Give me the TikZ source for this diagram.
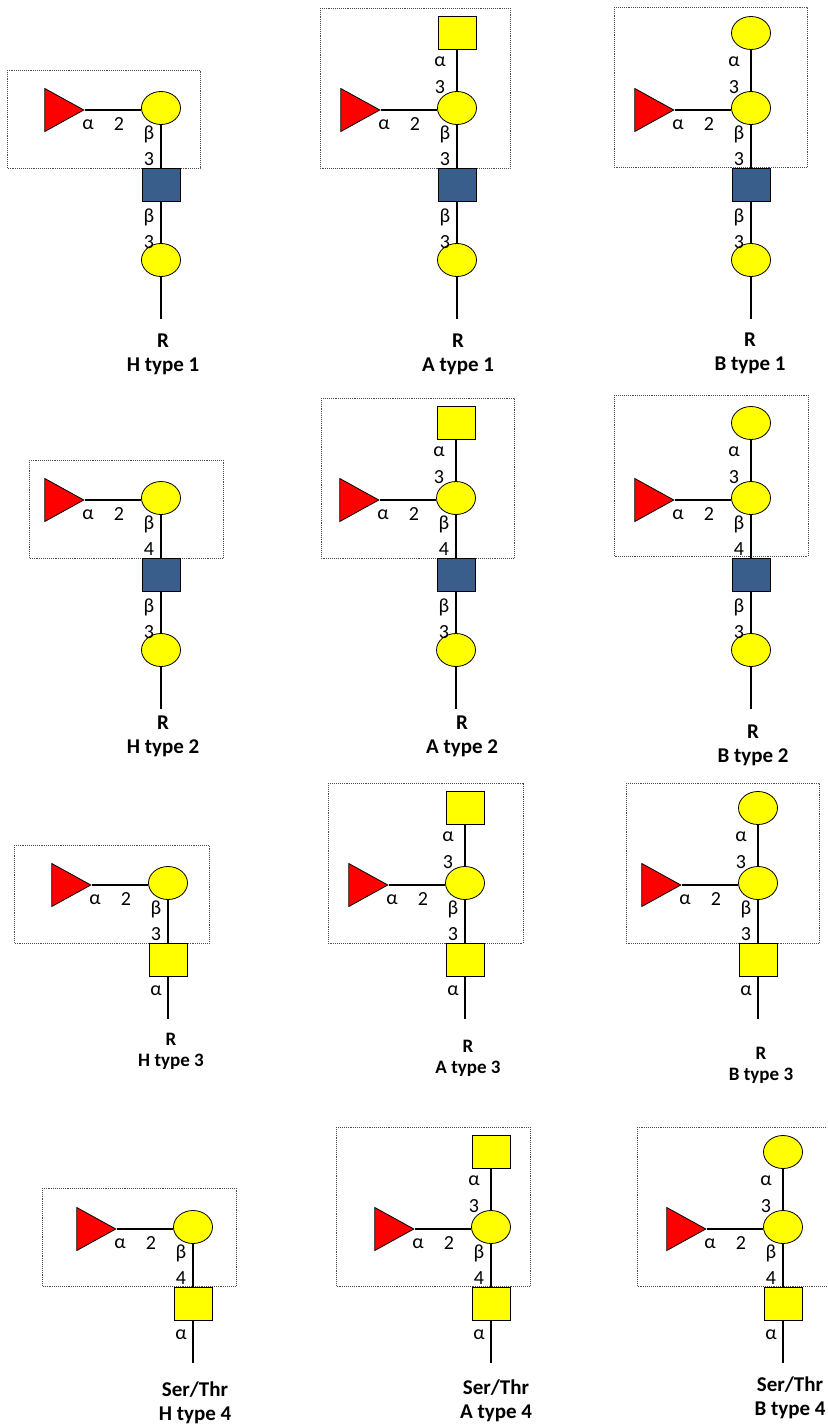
\documentclass[tikz,border=0pt]{standalone}
\usepackage{fontspec}
\setmainfont{Carlito}
\usetikzlibrary{shapes.geometric}
\definecolor{fucred}{RGB}{255,0,0}
\definecolor{galyellow}{RGB}{255,255,0}
\definecolor{glcblue}{RGB}{57,94,140}

\begin{document}
\begin{tikzpicture}[x=1pt, y=-1pt,
		fuc/.style={isosceles triangle, isosceles triangle stretches, shape border rotate=0, draw, fill=fucred, minimum width=43pt, minimum height=39pt, inner sep=0pt, line width=0.8pt},
		gal/.style={ellipse, draw, fill=galyellow, minimum width=39pt, minimum height=33pt, inner sep=0pt, line width=0.8pt},
		glcnac/.style={rectangle, draw, fill=glcblue, minimum width=38pt, minimum height=33pt, inner sep=0pt, line width=0.8pt},
		galnac/.style={rectangle, draw, fill=galyellow, minimum width=38pt, minimum height=33pt, inner sep=0pt, line width=0.8pt},
		link/.style={line width=1.5pt},
		lnk/.style={font=\fontsize{20}{24}\selectfont, inner sep=0pt},
		lab/.style={font=\fontsize{21}{25}\selectfont\bfseries, inner sep=0pt},
		labsmall/.style={font=\fontsize{19}{23}\selectfont\bfseries, inner sep=0pt},
		gbox/.style={densely dotted, line width=0.9pt, draw=black!70}
		]
		\useasboundingbox (0,0) rectangle (827,1426);
		\clip (0,0) rectangle (827,1426);
		
		% dotted frames round the H / A / B determinants
		\foreach \l/\t/\r/\b in {7/70/200/168, 320/8/510/168, 614/7/807/167, 29/460/223/558, 321/398/514/558, 614/395/808/556, 14/845/209/943, 328/783/523/943, 626/783/819/943, 42/1188/236/1286, 336/1127/530/1286, 637/1127/845/1286}
		\draw[gbox] (\l,\t) rectangle (\r,\b);
		
		% Fuc a2 Gal core
		\foreach \n/\x/\y in {H1/161/108, A1/457/108, B1/751/108, H2/161/498, A2/456/498, B2/751/498, H3/168/883, A3/465/883, B3/758/883, H4/193/1227, A4/491/1227, B4/783/1227} {
			\node[gal] (gal\n) at (\x,\y) {};
			\node[fuc] (fuc\n) at (\x-103.5,\y+2) {};
			\draw[link] (fuc\n.east) -- (fuc\n.east -| gal\n.west);
			\node[lnk] (fa\n) at (\x-73,\y+17) {α};
			\node[lnk] (fp\n) at (\x-42,\y+16) {2};
			\node[lnk] (ga\n) at (\x-12,\y+26) {β};
		}
		
		% types 1 and 2: Gal b GlcNAc b3 Gal - R
		\foreach \n/\x/\y/\k in {H1/161/108/3, A1/457/108/3, B1/751/108/3, H2/161/498/4, A2/456/498/4, B2/751/498/4} {
			\node[glcnac] (glc\n) at (\x,\y+76.5) {};
			\node[gal] (red\n) at (\x,\y+152) {};
			\coordinate (end\n) at (\x,\y+211);
			\draw[link] (gal\n) -- (glc\n);
			\draw[link] (glc\n) -- (red\n);
			\draw[link] (red\n) -- (end\n);
			\node[lnk] (gp\n) at (\x-12,\y+51) {\k};
			\node[lnk] (ca\n) at (\x-12,\y+109) {β};
			\node[lnk] (cp\n) at (\x-12,\y+134) {3};
		}
		
		% types 3 and 4: Gal b GalNAc a - R / Ser/Thr
		\foreach \n/\x/\y/\k in {H3/168/883/3, A3/465/883/3, B3/758/883/3, H4/193/1227/4, A4/491/1227/4, B4/783/1227/4} {
			\node[galnac] (gnac\n) at (\x,\y+76.5) {};
			\coordinate (end\n) at (\x,\y+136);
			\draw[link] (gal\n) -- (gnac\n);
			\draw[link] (gnac\n) -- (end\n);
			\node[lnk] (gp\n) at (\x-12,\y+51) {\k};
			\node[lnk] (na\n) at (\x-12,\y+108) {α};
		}
		
		% A: GalNAc a3, B: Gal a3
		\foreach \n/\x/\y in {A1/457/108, A2/456/498, A3/465/883, A4/491/1227}
		\node[galnac] (top\n) at (\x,\y-75) {};
		\foreach \n/\x/\y in {B1/751/108, B2/751/498, B3/758/883, B4/783/1227}
		\node[gal] (top\n) at (\x,\y-75) {};
		\foreach \n/\x/\y in {A1/457/108, A2/456/498, A3/465/883, A4/491/1227, B1/751/108, B2/751/498, B3/758/883, B4/783/1227} {
			\draw[link] (top\n) -- (gal\n);
			\node[lnk] (ta\n) at (\x-17,\y-46) {α};
			\node[lnk] (tp\n) at (\x-17,\y-21) {3};
		}
		
		% names
		\foreach \n/\x/\y/\r/\t in {H1/163/341/R/H type 1, A1/458/341/R/A type 1, B1/750/340/R/B type 1, H2/163/723/R/H type 2, A2/462/723/R/A type 2, B2/753/732/R/B type 2, H4/195/1390/Ser\slash Thr/H type 4, A4/496/1388/Ser\slash Thr/A type 4, B4/790/1385/Ser\slash Thr/B type 4} {
			\node[lab] (root\n) at (\x,\y) {\r};
			\node[lab] (name\n) at (\x,\y+25) {\t};
		}
		\foreach \n/\x/\y/\t in {H3/171/1039/H type 3, A3/468/1046/A type 3, B3/761/1053/B type 3} {
			\node[labsmall] (root\n) at (\x,\y) {R};
			\node[labsmall] (name\n) at (\x,\y+23) {\t};
		}
	\end{tikzpicture}
\end{document}
